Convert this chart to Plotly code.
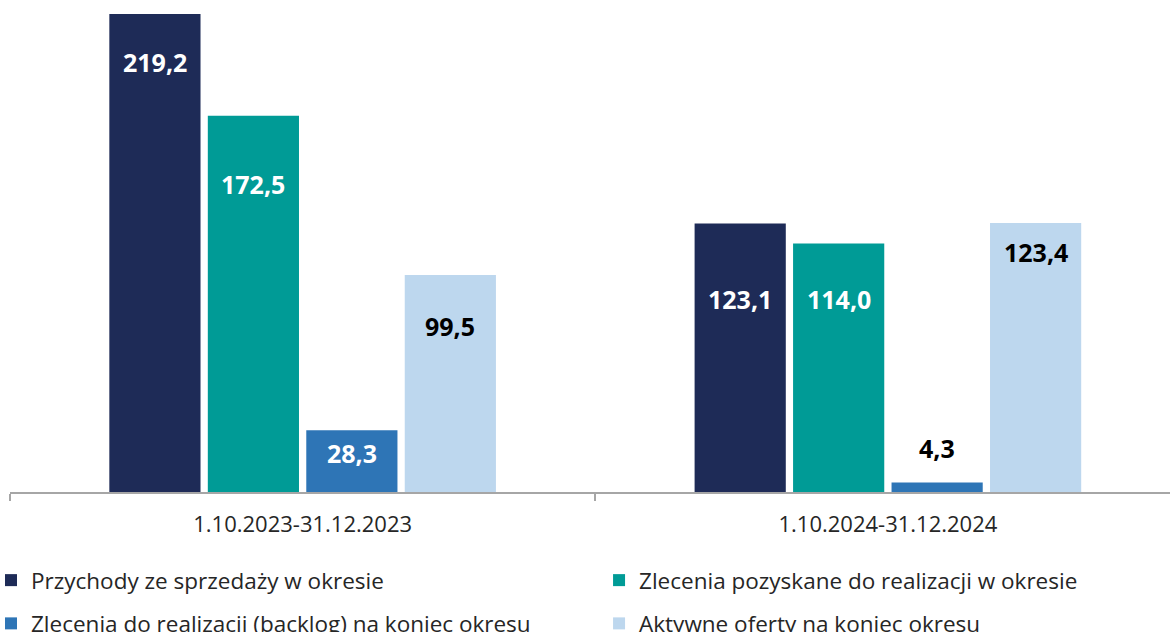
import plotly.graph_objects as go

categories = ["1.10.2023-31.12.2023", "1.10.2024-31.12.2024"]
series_names = [
    "Przychody ze sprzedaży w okresie",
    "Zlecenia pozyskane do realizacji w okresie",
    "Zlecenia do realizacji (backlog) na koniec okresu",
    "Aktywne oferty na koniec okresu",
]
przychody = [219.2, 123.1]
zlecenia_pozyskane = [172.5, 114.0]
backlog = [28.3, 4.3]
aktywne_oferty = [99.5, 123.4]

series_values = [przychody, zlecenia_pozyskane, backlog, aktywne_oferty]

# styles (kept apart from data)
colors = ["#1E2B57", "#009B96", "#2E75B6", "#BDD7EE"]
legend_ids = ["legend", "legend2", "legend", "legend2"]
label_colors = [["white", "white"], ["white", "white"], ["white", "black"], ["black", "black"]]
label_yshift = [[-48, -75], [-68, -56], [-23, 35], [-51, -29]]

FONT = "Open Sans"
BARGAP = 0.327
N = len(series_values)
slot = (1 - BARGAP) / N

fig = go.Figure()
for i, (name, vals) in enumerate(zip(series_names, series_values)):
    fig.add_trace(go.Bar(
        x=categories, y=vals, name=name,
        marker=dict(color=colors[i], line=dict(width=0)),
        legend=legend_ids[i], legendgroup=f"g{i}",
        hoverinfo="skip",
    ))
    for j, v in enumerate(vals):
        fig.add_annotation(
            x=j + (i - (N - 1) / 2) * slot, y=v, xref="x", yref="y",
            text=f"<b>{v:.1f}</b>".replace(".", ","),
            showarrow=False, yanchor="middle", xanchor="center",
            yshift=label_yshift[i][j],
            font=dict(family=FONT, size=25, color=label_colors[i][j]),
        )

legend_common = dict(
    orientation="v", xref="paper", yref="container",
    yanchor="top", xanchor="left",
    font=dict(family=FONT, size=22.5, color="#262626"),
    tracegroupgap=11, bgcolor="rgba(0,0,0,0)",
)

fig.update_layout(
    width=1170, height=632,
    margin=dict(l=10, r=0, t=0, b=140, autoexpand=False),
    paper_bgcolor="white", plot_bgcolor="white",
    barmode="group", bargap=BARGAP, bargroupgap=0.074,
    showlegend=True,
    legend=dict(x=-0.0164, y=1 - 559 / 632, **legend_common),
    legend2=dict(x=0.5078, y=1 - 559 / 632, **legend_common),
    xaxis=dict(
        type="category", range=[-0.5, 1.482],
        showline=True, linecolor="#A6A6A6", linewidth=1.5,
        ticks="outside", tickson="boundaries", ticklen=7,
        tickcolor="#A6A6A6", tickwidth=1.5,
        tickfont=dict(family=FONT, size=22, color="#262626"),
        showgrid=False, zeroline=False, ticklabelstandoff=12,
    ),
    yaxis=dict(range=[0, 225.6], visible=False, showgrid=False, zeroline=False),
)

fig.write_html(
    "out.html",
    config={"displayModeBar": False},
    post_script="document.body.style.margin='0px';",
)
